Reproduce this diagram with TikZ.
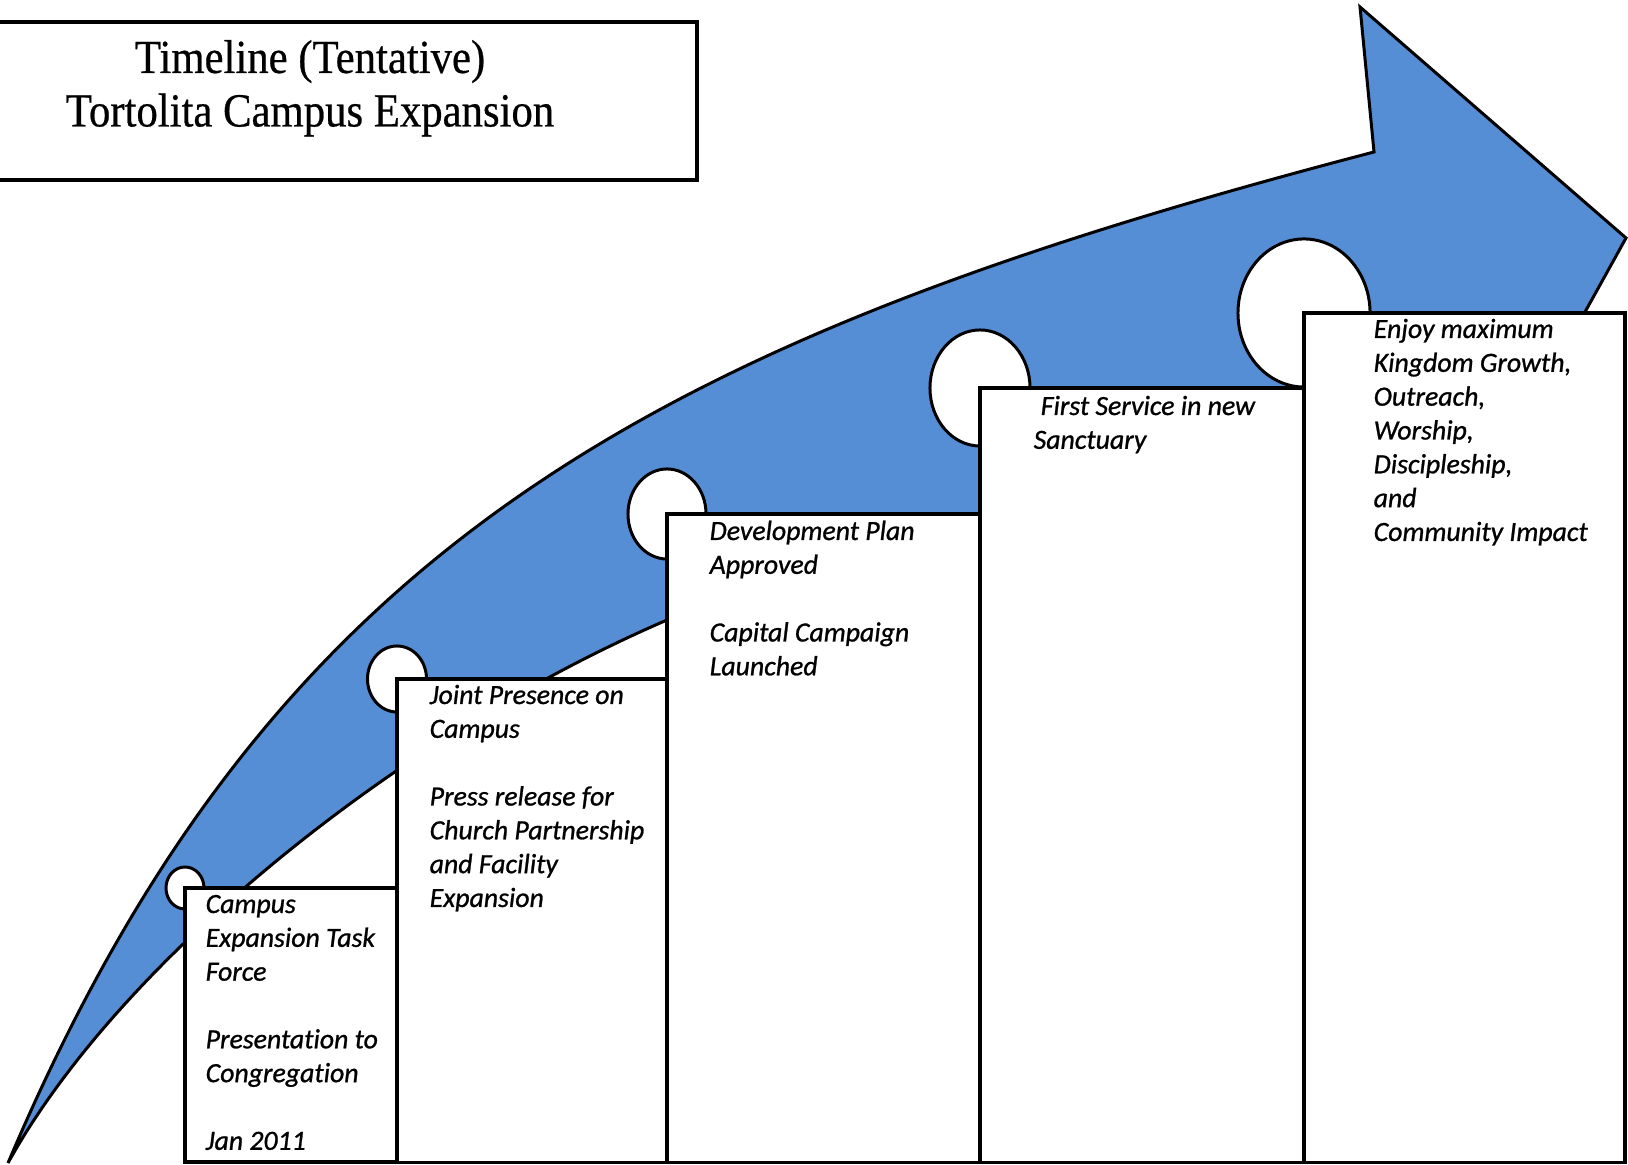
\documentclass[tikz,border=0pt]{standalone}
\usepackage{fontspec}
\setmainfont{Carlito}
\newfontfamily\titlefont{Liberation Serif}[FakeStretch=0.9, FakeBold=0.5]
\newfontfamily\stagefont{Carlito}[Ligatures=NoCommon, ItalicFeatures={FakeBold=0.9}]
\usetikzlibrary{shapes.geometric}
\definecolor{arrowblue}{HTML}{558ED5}
\newcommand{\steplines}[1]{\begin{tabular}[t]{@{}l@{}}#1\end{tabular}}

\tikzset{
  stagebox/.style={draw=black, line width=1pt, fill=white, rectangle, anchor=north west, inner sep=0pt, outer sep=0pt},
  milestone/.style={draw=black, line width=0.85pt, fill=white, ellipse, inner sep=0pt},
  stagetext/.style={anchor=base west, inner sep=0pt, font=\stagefont\itshape\fontsize{7.9}{9.62}\selectfont},
}

\begin{document}
\begin{tikzpicture}[x=0.01cm, y=-0.01cm]
  \clip (0,0) rectangle (1628,1165);

  \draw[line width=1.1pt, fill=white] (-80,22) rectangle (697,180);
  \node[anchor=base, inner sep=0pt, font=\titlefont\fontsize{13.5}{15.2}\selectfont] (title) at (310,73)
    {\begin{tabular}[t]{@{}c@{}}Timeline (Tentative)\\Tortolita Campus Expansion\end{tabular}};

  % the rising arrow
  \filldraw[fill=arrowblue, draw=black, line width=0.85pt]
    (8,1163) .. controls (270,545) and (651,341) .. (1374,152)
    -- (1360,7) -- (1626,238) -- (1503,460) -- (1430,420)
    .. controls (1150,480) and (797,564) .. (667,620)
    .. controls (400,735) and (120,960) .. (8,1163) -- cycle;

  \coordinate (c1) at (185,888);
  \coordinate (c2) at (397,679);
  \coordinate (c3) at (667,514);
  \coordinate (c4) at (980,388);
  \coordinate (c5) at (1304,313);

  \node[milestone, minimum width=0.38cm, minimum height=0.42cm] (mark1) at (c1) {};
  \node[milestone, minimum width=0.59cm, minimum height=0.66cm] (mark2) at (c2) {};
  \node[milestone, minimum width=0.78cm, minimum height=0.90cm] (mark3) at (c3) {};
  \node[milestone, minimum width=1.00cm, minimum height=1.16cm] (mark4) at (c4) {};
  \node[milestone, minimum width=1.32cm, minimum height=1.48cm] (mark5) at (c5) {};

  \node[stagebox, minimum width=2.12cm, minimum height=2.74cm] (stage1) at (c1) {};
  \node[stagebox, minimum width=2.70cm, minimum height=4.83cm] (stage2) at (c2) {};
  \node[stagebox, minimum width=3.13cm, minimum height=6.48cm] (stage3) at (c3) {};
  \node[stagebox, minimum width=3.24cm, minimum height=7.74cm] (stage4) at (c4) {};
  \node[stagebox, minimum width=3.21cm, minimum height=8.49cm] (stage5) at (c5) {};

  \node[stagetext] (text1) at ([shift={(20,25)}]stage1.north west)
    {\steplines{Campus\\Expansion Task\\Force\\ \\Presentation to\\Congregation\\ \\Jan 2011}};
  \node[stagetext] (text2) at ([shift={(32,25)}]stage2.north west)
    {\steplines{Joint Presence on\\Campus\\ \\Press release for\\Church Partnership\\and Facility\\Expansion}};
  \node[stagetext] (text3) at ([shift={(42,26)}]stage3.north west)
    {\steplines{Development Plan\\Approved\\ \\Capital Campaign\\Launched}};
  \node[stagetext] (text4) at ([shift={(53,27)}]stage4.north west)
    {\steplines{\hspace{2pt}First Service in new\\Sanctuary}};
  \node[stagetext] (text5) at ([shift={(69,25)}]stage5.north west)
    {\steplines{Enjoy maximum\\Kingdom Growth,\\Outreach,\\Worship,\\Discipleship,\\and\\Community Impact}};
\end{tikzpicture}
\end{document}
